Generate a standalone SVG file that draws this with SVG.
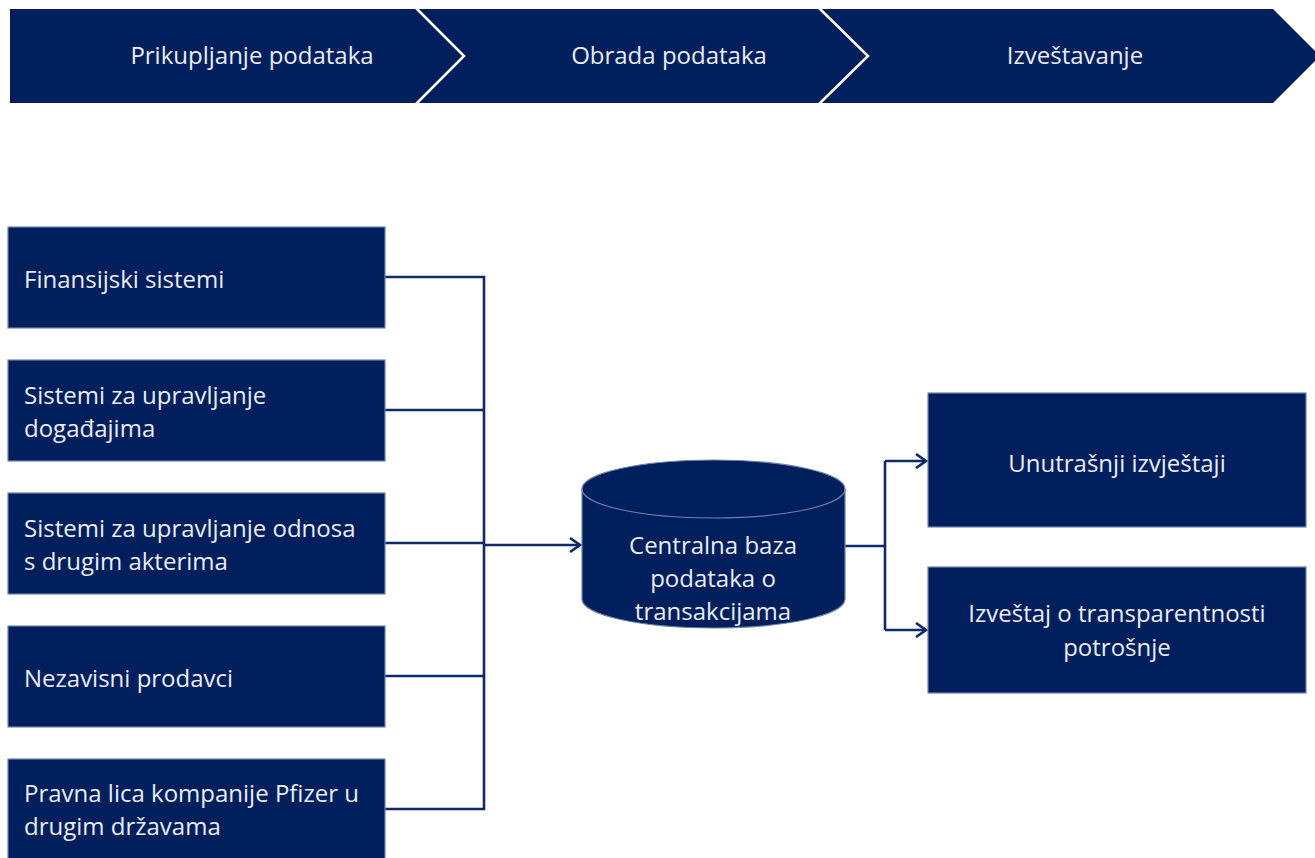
<svg xmlns="http://www.w3.org/2000/svg" width="1315" height="858" viewBox="0 0 1315 858">
<style>
.bg{fill:#ffffff}
.nav{fill:#001F5C}
.box{fill:#001F5C;stroke:#6F82AA;stroke-width:1.2}
.sep{fill:none;stroke:#ffffff;stroke-width:2.5}
.t{font-family:"Open Sans","Noto Sans","Liberation Sans",sans-serif;font-size:24px;fill:#E9EDF5}
.c{text-anchor:middle}
.wire{fill:none;stroke:#0E2A6B;stroke-width:2.6}
</style>
<defs>
<marker id="arr" viewBox="0 0 14 16" refX="12" refY="8" markerWidth="14" markerHeight="16" markerUnits="userSpaceOnUse" orient="auto">
<path d="M2,1 L12,8 L2,15" fill="none" stroke="#0E2A6B" stroke-width="2.6"/>
</marker>
</defs>
<rect class="bg" x="0" y="0" width="1315" height="858"/>
<g id="phase1">
<polygon class="nav" points="10,9 416,9 464,56 416,103 10,103"/>
<text class="t c" x="252" y="64">Prikupljanje podataka</text>
</g>
<g id="phase2">
<polygon class="nav" points="416,9 819,9 868,56 819,103 416,103 464,56"/>
<text class="t c" x="669" y="64">Obrada podataka</text>
</g>
<g id="phase3">
<polygon class="nav" points="819,9 1273,9 1320,56 1273,103 819,103 868,56"/>
<text class="t c" x="1075" y="64">Izveštavanje</text>
</g>
<g id="separators">
<polyline class="sep" points="416,8 464,56 416,104"/>
<polyline class="sep" points="819,8 868,56 819,104"/>
</g>
<g id="connectors">
<path class="wire" d="M385,277 H484 V809 H385 M385,410 H484 M385,543 H484 M385,676 H484"/>
<path class="wire" d="M484,545 H580" marker-end="url(#arr)"/>
<path class="wire" d="M845,546 H885 M885,461 V630"/>
<path class="wire" d="M885,461 H926" marker-end="url(#arr)"/>
<path class="wire" d="M885,630 H926" marker-end="url(#arr)"/>
</g>
<g id="src1">
<rect class="box" x="8" y="227" width="377" height="101"/>
<text class="t" x="24" y="288">Finansijski sistemi</text>
</g>
<g id="src2">
<rect class="box" x="8" y="360" width="377" height="101"/>
<text class="t" x="24" y="404">Sistemi za upravljanje</text>
<text class="t" x="24" y="437">događajima</text>
</g>
<g id="src3">
<rect class="box" x="8" y="493" width="377" height="101"/>
<text class="t" x="24" y="537">Sistemi za upravljanje odnosa</text>
<text class="t" x="24" y="570">s drugim akterima</text>
</g>
<g id="src4">
<rect class="box" x="8" y="626" width="377" height="101"/>
<text class="t" x="24" y="687">Nezavisni prodavci</text>
</g>
<g id="src5">
<rect class="box" x="8" y="759" width="377" height="105"/>
<text class="t" x="24" y="802">Pravna lica kompanije Pfizer u</text>
<text class="t" x="24" y="835">drugim državama</text>
</g>
<g id="db">
<path class="box" d="M582,489 V599 A131.5,29 0 0 0 845,599 V489 A131.5,29 0 0 0 582,489 Z"/>
<path d="M582,489 A131.5,29 0 0 0 845,489" fill="none" stroke="#6F82AA" stroke-width="1.2"/>
<text class="t c" x="713" y="554">Centralna baza</text>
<text class="t c" x="713" y="587">podataka o</text>
<text class="t c" x="713" y="620">transakcijama</text>
</g>
<g id="out1">
<rect class="box" x="928" y="393" width="378" height="134"/>
<text class="t c" x="1117" y="472">Unutrašnji izvještaji</text>
</g>
<g id="out2">
<rect class="box" x="928" y="567" width="378" height="126"/>
<text class="t c" x="1117" y="622">Izveštaj o transparentnosti</text>
<text class="t c" x="1117" y="656">potrošnje</text>
</g>
</svg>
